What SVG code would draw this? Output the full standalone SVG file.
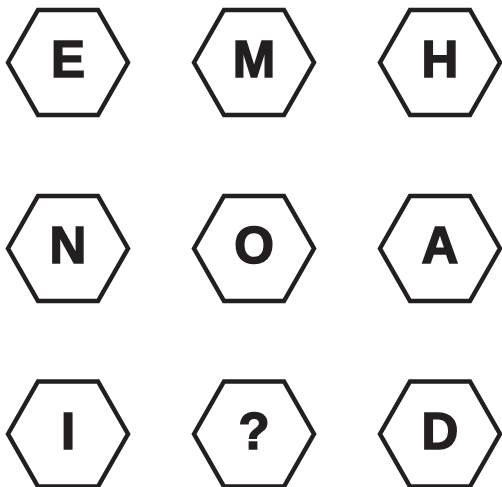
<svg xmlns="http://www.w3.org/2000/svg" width="502" height="487" viewBox="0 0 502 487">
<style>
.hex{fill:#fff;stroke:#231f20;stroke-width:4.5;stroke-linejoin:miter}
.t{font-family:"Liberation Sans",Arial,sans-serif;font-weight:bold;font-size:51px;fill:#231f20;stroke:#231f20;stroke-width:1.6;stroke-linejoin:miter;text-anchor:middle}
</style>
<defs>
<polygon id="h" points="-60,0 -30,-52.5 30,-52.5 60,0 30,52.5 -30,52.5"/>
</defs>
<rect width="502" height="487" fill="#fff"/>
<g id="nE" transform="translate(68,62.5)"><use href="#h" class="hex"/><text class="t" y="14.5">E</text></g>
<g id="nM" transform="translate(254,62.5)"><use href="#h" class="hex"/><text class="t" y="14.5">M</text></g>
<g id="nH" transform="translate(440,62.5)"><use href="#h" class="hex"/><text class="t" y="14.5">H</text></g>
<g id="nN" transform="translate(68,248.5)"><use href="#h" class="hex"/><text class="t" y="14.5">N</text></g>
<g id="nO" transform="translate(254,248.5)"><use href="#h" class="hex"/><text class="t" y="14.5">O</text></g>
<g id="nA" transform="translate(440,248.5)"><use href="#h" class="hex"/><text class="t" y="14.5">A</text></g>
<g id="nI" transform="translate(68,434)"><use href="#h" class="hex"/><text class="t" y="14.5">I</text></g>
<g id="nQ" transform="translate(254,434)"><use href="#h" class="hex"/><text class="t" y="14.5">?</text></g>
<g id="nD" transform="translate(440,434)"><use href="#h" class="hex"/><text class="t" y="14.5">D</text></g>
<g id="connectors"></g>
</svg>
